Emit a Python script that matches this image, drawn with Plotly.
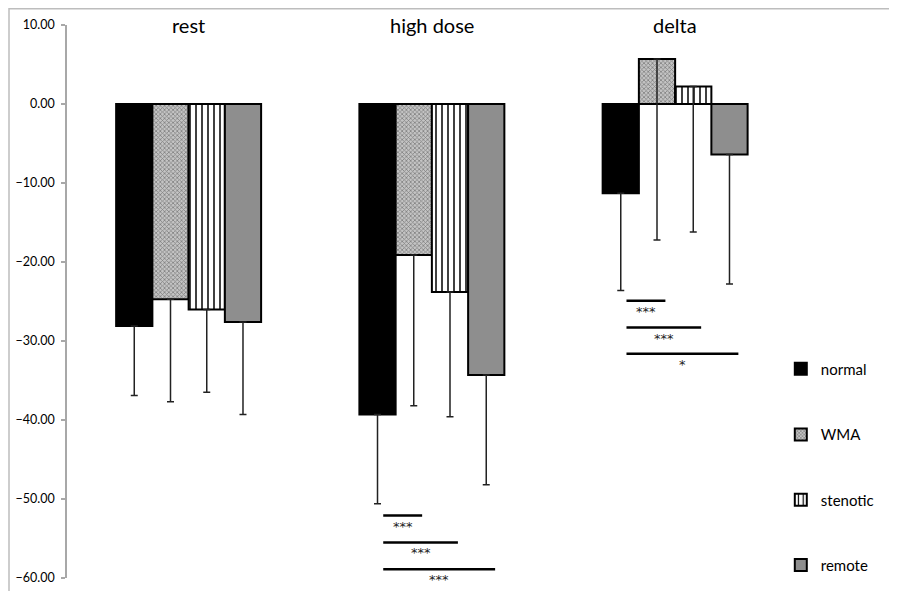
import plotly.graph_objects as go

categories = ["rest", "high dose", "delta"]
series_names = ["normal", "WMA", "stenotic", "remote"]

normal_vals = [-28.1, -39.3, -11.3]
wma_vals = [-24.7, -19.1, 5.7]
stenotic_vals = [-26.0, -23.8, 2.2]
remote_vals = [-27.6, -34.3, -6.4]

# lower end of each error bar (value reached by the whisker)
normal_err_end = [-36.9, -50.6, -23.6]
wma_err_end = [-37.7, -38.2, -17.2]
stenotic_err_end = [-36.5, -39.6, -16.2]
remote_err_end = [-39.3, -48.2, -22.8]

y_ticks = [10, 0, -10, -20, -30, -40, -50, -60]

# significance brackets: category index, y level, end offset, label
sig_category = [1, 1, 1, 2, 2, 2]
sig_level = [-52.1, -55.5, -58.9, -24.9, -28.3, -31.6]
sig_end_offset = [-0.04, 0.107, 0.26, -0.04, 0.107, 0.26]
sig_label = ["***", "***", "***", "***", "***", "*"]
sig_start_offset = -0.2

FONT = "Lato"

styles = {
    "normal": dict(color="#000000"),
    "WMA": dict(color="#b5b5b5", pattern=dict(shape="x", size=3, solidity=0.45,
                                               fgcolor="#3a3a3a", bgcolor="#c4c4c4")),
    "stenotic": dict(color="#ffffff", pattern=dict(shape="|", size=6, solidity=0.25,
                                                    fgcolor="#000000", bgcolor="#ffffff",
                                                    fillmode="replace")),
    "remote": dict(color="#8e8e8e"),
}

vals = [normal_vals, wma_vals, stenotic_vals, remote_vals]
ends = [normal_err_end, wma_err_end, stenotic_err_end, remote_err_end]
legend_ids = ["legend", "legend2", "legend3", "legend4"]
legend_y = [0.378, 0.259, 0.141, 0.023]

fig = go.Figure()
for name, v, e, lid in zip(series_names, vals, ends, legend_ids):
    minus = [round(a - b, 3) for a, b in zip(v, e)]
    marker = dict(line=dict(color="#000000", width=2))
    marker.update(styles[name])
    fig.add_trace(go.Bar(
        x=categories, y=v, name=name, legend=lid,
        marker=marker,
        error_y=dict(type="data", symmetric=False, array=[0] * len(v),
                     arrayminus=minus, color="#222222", thickness=1.5, width=3.5),
    ))

shapes = []
annotations = []
for c, lvl, eo, lab in zip(sig_category, sig_level, sig_end_offset, sig_label):
    x0 = c + sig_start_offset
    x1 = c + eo
    shapes.append(dict(type="line", xref="x", yref="y", x0=x0, x1=x1, y0=lvl, y1=lvl,
                       line=dict(color="#000000", width=2.5)))
    annotations.append(dict(x=(x0 + x1) / 2, y=lvl, xref="x", yref="y", text=lab,
                            showarrow=False, yanchor="top", yshift=-1,
                            font=dict(family="DejaVu Sans", size=13, color="#222222")))

for i, cat in enumerate(categories):
    annotations.append(dict(x=i, y=10, xref="x", yref="y", text=cat, showarrow=False,
                            yanchor="middle", font=dict(family=FONT, size=20, color="#000000")))

# outer frame
shapes.append(dict(type="rect", xref="paper", yref="paper",
                   x0=(1 - 59) / 830, x1=1.1, y0=-0.2, y1=(570 - 0.75) / 553,
                   line=dict(color="#bdbdbd", width=1.5), layer="below"))

layout_legends = {}
for lid, ly in zip(legend_ids, legend_y):
    layout_legends[lid] = dict(x=0.860, y=ly, xanchor="left", yanchor="middle",
                               font=dict(family=FONT, size=15, color="#000000"),
                               itemwidth=30, bgcolor="rgba(0,0,0,0)")

fig.update_layout(
    width=889, height=583,
    margin=dict(l=59, r=0, t=17, b=13),
    paper_bgcolor="white", plot_bgcolor="white",
    barmode="group", bargap=0.404, bargroupgap=0,
    showlegend=True,
    xaxis=dict(range=[-0.5, -0.5 + 830 / 243.25], showticklabels=False, showline=False,
               showgrid=False, zeroline=False, ticks=""),
    yaxis=dict(range=[-60, 10], tickvals=y_ticks, tickformat=".2f",
               showline=True, linecolor="#a8a8a8", linewidth=1.5,
               ticks="outside", ticklen=4, tickcolor="#a8a8a8", tickwidth=1.5,
               ticklabelstandoff=4,
               showgrid=False, zeroline=False,
               tickfont=dict(family=FONT, size=12.5, color="#000000")),
    shapes=shapes, annotations=annotations,
    **layout_legends,
)

fig.write_html("out.html")
